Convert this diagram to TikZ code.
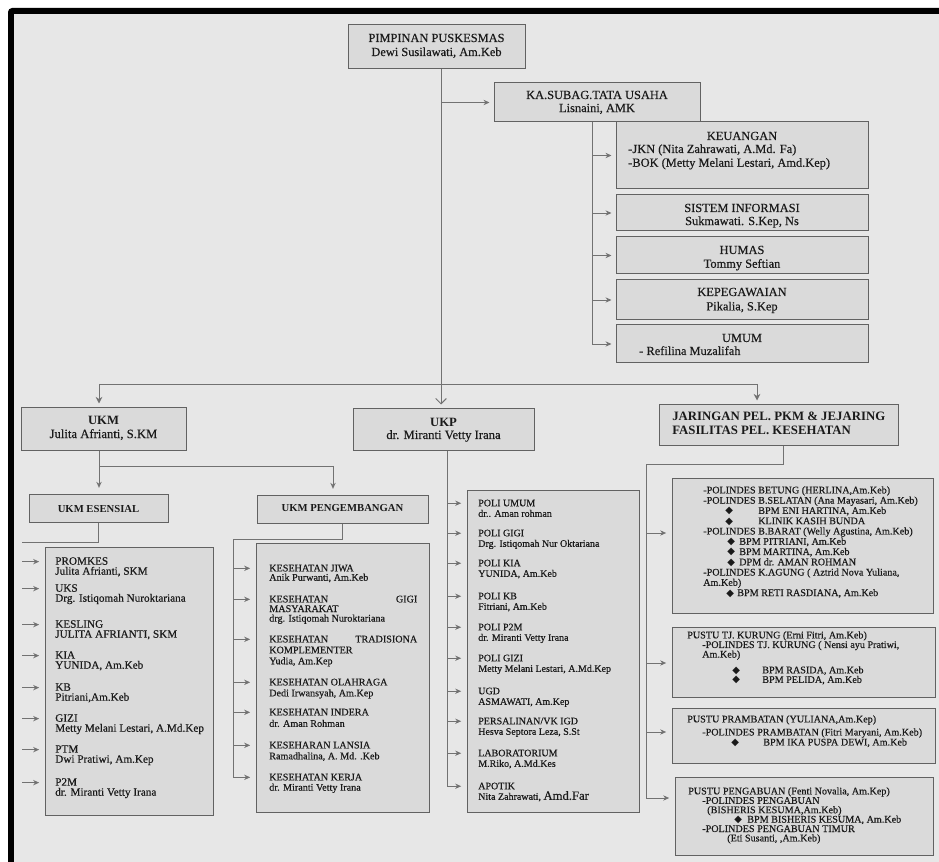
\documentclass[tikz,border=0pt]{standalone}
\usepackage{fontspec}
\setmainfont{Liberation Serif}[UprightFeatures={FakeBold=0.4}]
\newfontfamily\symf{DejaVu Sans}
\usetikzlibrary{arrows.meta,fit}

% one pixel of the drawing grid
\newdimen\px \px=0.75pt
% left-aligned block of lines with a fixed line pitch; baseline = first line
\newcommand\stack[2][7.9pt]{\vtop{\baselineskip=#1\lineskiplimit=-\maxdimen\lineskip=0pt\let\\\cr\halign{##\hfil\cr#2\crcr}}}
% centred block of lines, same rules
\newcommand\cstack[2][10pt]{\vtop{\baselineskip=#1\lineskiplimit=-\maxdimen\lineskip=0pt\let\\\cr\halign{\hfil##\hfil\cr#2\crcr}}}
% justified first line of a long heading
\newcommand\spread[2]{\makebox[148\px][s]{#1\hfill #2}}
% list bullet
\newcommand\dia{{\fontsize{7.5}{7}\symf ◆}}

\definecolor{pagebg}{HTML}{E7E7E7}
\definecolor{boxbg}{HTML}{DADADA}
\definecolor{edge}{HTML}{626262}
\definecolor{wirec}{HTML}{727272}
\definecolor{ink}{HTML}{1A1A1A}

\begin{document}
\begin{tikzpicture}[x=0.75pt,y=-0.75pt,
  box/.style={draw=edge,fill=boxbg,line width=0.75pt,inner sep=0pt},
  txt/.style={inner sep=0pt,text=ink},
  item/.style={txt,anchor=base west},
  ctr/.style={txt,anchor=base},
  hd/.style={ctr,font=\fontsize{9.3}{10}\selectfont},
  esi/.style={item,font=\fontsize{8.4}{7.5}\selectfont},
  pgi/.style={item,font=\fontsize{7.6}{7.9}\selectfont},
  poi/.style={item,font=\fontsize{7.5}{7.9}\selectfont},
  jri/.style={item,font=\fontsize{7.6}{7.6}\selectfont},
  wire/.style={draw=wirec,line width=0.7pt},
  arr/.style={wire,-{Stealth[length=4.5pt,width=4pt]},shorten >=3pt},
  arrd/.style={wire,-{Stealth[length=5pt,width=5pt]},shorten >=3pt},
  arrv/.style={wire,-{Straight Barb[length=4pt,width=8pt]},shorten >=3pt}]

\useasboundingbox (0,0) rectangle (939,862);
% page with its dark frame
\fill[white] (0,0) rectangle (939,862);
\fill[black,rounded corners=3pt] (8,8) rectangle (960,880);
\fill[pagebg] (14,14) rectangle (960,880);

% ---------- top level ----------
\node[box,fit={(348,25)(525,69)}] (pim) {};
\node[hd] (pimT) at (436.5,42) {\cstack[10.5pt]{PIMPINAN PUSKESMAS\\Dewi Susilawati, Am.Keb}};
\node[box,fit={(494,83)(700,122)}] (ksub) {};
\node[hd] (ksubT) at (597,99) {\cstack[9.8pt]{KA.SUBAG.TATA USAHA\\Lisnaini, AMK}};

% ---------- administration ----------
\node[box,fit={(616,122)(868,189)}] (keu) {};
\node[hd] (keuT) at (742,140) {KEUANGAN};
\node[item,font=\fontsize{9.3}{10}\selectfont] (keuL) at (628,153) {\stack[10.3pt]{-JKN (Nita Zahrawati, A.Md. Fa)\\-BOK (Metty Melani Lestari, Amd.Kep)}};
\node[box,fit={(616,195)(868,231)}] (sis) {};
\node[hd] (sisT) at (742,212) {\cstack[9.8pt]{SISTEM INFORMASI\\Sukmawati. S.Kep, Ns}};
\node[box,fit={(616,237)(868,274)}] (hum) {};
\node[hd] (humT) at (742,254) {\cstack[10.3pt]{HUMAS\\Tommy Seftian}};
\node[box,fit={(616,280)(868,320)}] (peg) {};
\node[hd] (pegT) at (742,296) {\cstack[10.8pt]{KEPEGAWAIAN\\Pikalia, S.Kep}};
\node[box,fit={(616,325)(868,363)}] (umum) {};
\node[hd] (umT) at (742,342) {UMUM};
\node[item,font=\fontsize{9.3}{10}\selectfont] (umL) at (639,355) {- Refilina Muzalifah};

% ---------- second level ----------
\node[box,fit={(21,408)(186,451)}] (ukm) {};
\node[ctr,font=\fontsize{9.5}{10}\selectfont] (ukmT) at (103.5,425) {\cstack[9.8pt]{\textbf{UKM}\\Julita Afrianti, S.KM}};
\node[box,fit={(353,409)(534,451)}] (ukp) {};
\node[ctr,font=\fontsize{9.5}{10}\selectfont] (ukpT) at (443.5,427) {\cstack[9pt]{\textbf{UKP}\\dr. Miranti Vetty Irana}};
\node[box,fit={(659,405)(898,446)}] (jar) {};
\node[item,font=\bfseries\fontsize{9.6}{10}\selectfont] (jarT) at (672,421) {\stack[10.5pt]{JARINGAN PEL. PKM \& JEJARING\\FASILITAS PEL. KESEHATAN}};

\node[box,fit={(29,495)(168,523)}] (ukes) {};
\node[ctr,font=\bfseries\fontsize{8}{9}\selectfont] (ukesT) at (98.5,512.5) {UKM ESENSIAL};
\node[box,fit={(257,496)(428,524)}] (ukpg) {};
\node[ctr,font=\bfseries\fontsize{8}{9}\selectfont] (ukpgT) at (342.5,511.5) {UKM PENGEMBANGAN};

% ---------- UKM esensial list ----------
\node[box,fit={(45,548)(213,815)}] (esbox) {};
\node[esi] (es1) at (55,564.7) {\stack[7.5pt]{PROMKES\\Julita Afrianti, SKM}};
\node[esi] (es2) at (55,591.7) {\stack[7.5pt]{UKS\\Drg. Istiqomah Nuroktariana}};
\node[esi] (es3) at (55,627.7) {\stack[7.5pt]{KESLING\\JULITA AFRIANTI, SKM}};
\node[esi] (es4) at (55,658.7) {\stack[7.5pt]{KIA\\YUNIDA, Am.Keb}};
\node[esi] (es5) at (55,690.7) {\stack[7.5pt]{KB\\Pitriani,Am.Keb}};
\node[esi] (es6) at (55,721.7) {\stack[7.5pt]{GIZI\\Metty Melani Lestari, A.Md.Kep}};
\node[esi] (es7) at (55,752.7) {\stack[7.5pt]{PTM\\Dwi Pratiwi, Am.Kep}};
\node[esi] (es8) at (55,785.7) {\stack[7.5pt]{P2M\\dr. Miranti Vetty Irana}};

% ---------- UKM pengembangan list ----------
\node[box,fit={(256,544)(429,812)}] (pgbox) {};
\node[pgi] (pg1) at (269,571.4) {\stack[7pt]{KESEHATAN JIWA\\Anik Purwanti, Am.Keb}};
\node[pgi] (pg2) at (269,602.4) {\stack[7.2pt]{\spread{KESEHATAN}{GIGI}\\MASYARAKAT\\drg. Istiqomah Nuroktariana}};
\node[pgi] (pg3) at (269,642.4) {\stack[8.2pt]{\spread{KESEHATAN}{TRADISIONA}\\KOMPLEMENTER\\Yudia, Am.Kep}};
\node[pgi] (pg4) at (269,685.4) {\stack[8.2pt]{KESEHATAN OLAHRAGA\\Dedi Irwansyah, Am.Kep}};
\node[pgi] (pg5) at (269,715.4) {\stack[8.6pt]{KESEHATAN INDERA\\dr. Aman Rohman}};
\node[pgi] (pg6) at (269,748.4) {\stack[8.2pt]{KESEHARAN LANSIA\\Ramadhalina, A. Md. .Keb}};
\node[pgi] (pg7) at (269,780.4) {\stack[7.7pt]{KESEHATAN KERJA\\dr. Miranti Vetty Irana}};

% ---------- UKP list ----------
\node[box,fit={(467,491)(639,812)}] (polbox) {};
\node[poi] (po1) at (478,506.3) {\stack{POLI UMUM\\dr.. Aman rohman}};
\node[poi] (po2) at (478,536.3) {\stack{POLI GIGI\\Drg. Istiqomah Nur Oktariana}};
\node[poi] (po3) at (478,566.3) {\stack{POLI KIA\\YUNIDA, Am.Keb}};
\node[poi] (po4) at (478,599.3) {\stack{POLI KB\\Fitriani, Am.Keb}};
\node[poi] (po5) at (478,630.3) {\stack{POLI P2M\\dr. Miranti Vetty Irana}};
\node[poi] (po6) at (478,661.3) {\stack{POLI GIZI\\Metty Melani Lestari, A.Md.Kep}};
\node[poi] (po7) at (478,694.3) {\stack{UGD\\ASMAWATI, Am.Kep}};
\node[poi] (po8) at (478,724.3) {\stack{PERSALINAN/VK IGD\\Hesva Septora Leza, S.St}};
\node[poi] (po9) at (478,756.3) {\stack{LABORATORIUM\\M.Riko, A.Md.Kes}};
\node[poi] (po10) at (478,789.3) {\stack{APOTIK\\Nita Zahrawati, {\fontsize{9.5}{9}\selectfont Amd.Far}}};

% ---------- network list ----------
\node[box,fit={(672,479)(933,613)}] (jr1) {};
\node[jri] (jt1) at (703,493.4) {\stack[7.7pt]{%
-POLINDES BETUNG (HERLINA,Am.Keb)\\
-POLINDES B.SELATAN (Ana Mayasari, Am.Keb)\\
\hspace*{22\px}\makebox[33\px][l]{\dia}BPM ENI HARTINA, Am.Keb\\
\hspace*{22\px}\makebox[33\px][l]{\dia}KLINIK KASIH BUNDA\\
-POLINDES B.BARAT (Welly Agustina, Am.Keb)\\
\hspace*{24\px}\makebox[12\px][l]{\dia}BPM PITRIANI, Am.Keb\\
\hspace*{24\px}\makebox[12\px][l]{\dia}BPM MARTINA, Am.Keb\\
\hspace*{24\px}\makebox[12\px][l]{\dia}DPM dr. AMAN ROHMAN\\
-POLINDES K.AGUNG ( Aztrid Nova Yuliana,\\
Am.Keb)\\
\hspace*{23\px}\makebox[11\px][l]{\dia}BPM RETI RASDIANA, Am.Keb}};

\node[box,fit={(672,627)(935,697)}] (jr2) {};
\node[jri] (jt2) at (687,638.4) {\stack[7.2pt]{%
PUSTU TJ. KURUNG (Erni Fitri, Am.Keb)\\
\hspace*{15\px}-POLINDES TJ. KURUNG ( Nensi ayu Pratiwi,\\
\hspace*{15\px}Am.Keb)\\\noalign{\kern4.6pt}
\hspace*{45\px}\makebox[30\px][l]{\dia}BPM RASIDA, Am.Keb\\
\hspace*{45\px}\makebox[30\px][l]{\dia}BPM PELIDA, Am.Keb}};

\node[box,fit={(672,708)(935,763)}] (jr3) {};
\node[jri] (jt3) at (687,722.4) {\stack[7.5pt]{%
PUSTU PRAMBATAN (YULIANA,Am.Kep)\\\noalign{\kern2.3pt}
\hspace*{15\px}-POLINDES PRAMBATAN (Fitri Maryani, Am.Keb)\\
\hspace*{44\px}\makebox[32\px][l]{\dia}BPM IKA PUSPA DEWI, Am.Keb}};

\node[box,fit={(675,777)(933,855)}] (jr4) {};
\node[jri] (jt4) at (688,794.4) {\stack[7.05pt]{%
PUSTU PENGABUAN (Fenti Novalia, Am.Kep)\\
\hspace*{14\px}-POLINDES PENGABUAN\\
\hspace*{19\px}(BISHERIS KESUMA,Am.Keb)\\
\hspace*{46\px}\makebox[13\px][l]{\dia}BPM BISHERIS KESUMA, Am.Keb\\
\hspace*{14\px}-POLINDES PENGABUAN TIMUR\\
\hspace*{39\px}(Eti Susanti, ,Am.Keb)}};

% ---------- connectors ----------
\coordinate (hub) at (441,384);
\coordinate (barL) at (99,384);
\coordinate (barR) at (757,384);
\draw[wire] (pim.south -| hub) -- (hub);
\draw[arr] (hub |- ksub.west) -- (ksub.west);
\draw[wire] (barL) -- (barR);
\draw[arrd] (barL) -- (barL |- ukm.north);
\draw[arrv] (hub) -- (hub |- ukp.north);
\draw[arrd] (barR) -- (barR |- jar.north);

% administration rail
\coordinate (krail) at (592,122);
\draw[wire] (krail) -- (krail |- umum.west);
\foreach \b in {keu,sis,hum,peg,umum}
  \draw[arr] (krail |- \b.west) -- (\b.west);

% UKM split
\coordinate (ukmj) at (99,466);
\coordinate (pgx) at (333,466);
\draw[wire] (ukm.south -| ukmj) -- (ukmj) -- (pgx);
\draw[arr,shorten >=5pt] (ukmj) -- (ukmj |- ukes.north);
\draw[arr,shorten >=5pt] (pgx) -- (pgx |- ukpg.north);

% UKM esensial feeds
\coordinate (esrail) at (22,542);
\draw[wire] (ukes.south) |- (esrail);
\foreach \i in {1,...,8}
  \draw[arr,shorten >=4pt] (esrail |- es\i.mid) -- (esbox.west |- es\i.mid);

% UKM pengembangan feeds
\coordinate (pgrail) at (233,539);
\draw[wire] (ukpg.south) |- (pgrail) -- (pgrail |- pg7.mid);
\foreach \i in {1,...,7}
  \draw[arr,shorten >=4pt] (pgrail |- pg\i.mid) -- (pgbox.west |- pg\i.mid);

% UKP feeds
\coordinate (porail) at (447,451);
\draw[wire] (porail) -- (porail |- po10.mid);
\foreach \i in {1,...,10}
  \draw[arr,shorten >=4pt] (porail |- po\i.mid) -- (polbox.west |- po\i.mid);

% network feeds
\coordinate (jrj) at (783,464);
\coordinate (jrail) at (646,464);
\coordinate (lv1) at (0,533);
\coordinate (lv2) at (0,663);
\coordinate (lv3) at (0,732);
\coordinate (lv4) at (0,798);
\draw[wire] (jar.south -| jrj) -- (jrj) -- (jrail) -- (jrail |- lv4);
\foreach \i in {1,...,4}
  \draw[arr,shorten >=4pt] (jrail |- lv\i) -- (jr\i.west |- lv\i);
\end{tikzpicture}
\end{document}
